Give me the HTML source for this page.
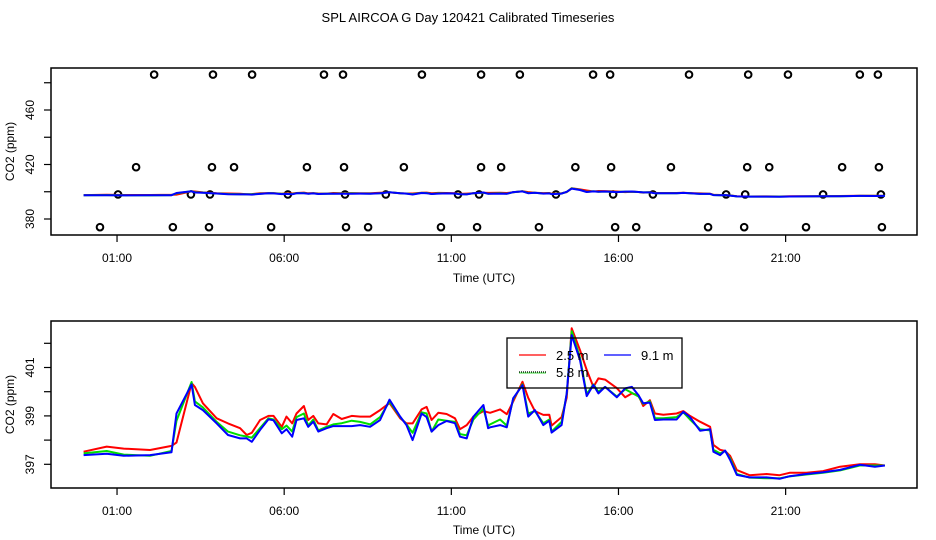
<!DOCTYPE html>
<html><head><meta charset="utf-8">
<style>
html,body{margin:0;padding:0;background:#fff;}
svg{display:block;font-family:"Liberation Sans","DejaVu Sans",sans-serif;}
</style></head>
<body>
<svg id="chart" width="936" height="540" viewBox="0 0 936 540">
<text x="468" y="22" text-anchor="middle" font-size="13">SPL AIRCOA G  Day 120421  Calibrated Timeseries</text>
</svg>
<script>
// ---- data ----
const times = [0,0.69,1.2,1.99,2.63,2.78,3.23,3.33,3.57,3.98,4.32,4.68,4.88,5.03,5.28,5.53,5.68,5.93,6.07,6.24,6.37,6.59,6.72,6.87,7.02,7.27,7.47,7.72,8.02,8.27,8.57,8.87,9.15,9.47,9.66,9.84,10.11,10.26,10.41,10.61,10.86,11.11,11.26,11.46,11.66,11.96,12.1,12.16,12.46,12.66,12.85,13.13,13.3,13.5,13.75,13.93,14.0,14.3,14.45,14.6,14.85,15.05,15.25,15.4,15.6,15.95,16.2,16.4,16.6,16.74,16.94,17.09,17.34,17.74,17.94,18.14,18.44,18.74,18.84,19.04,19.19,19.34,19.54,19.92,20.43,20.82,21.12,21.62,22.12,22.63,23.22,23.67,23.97];
const red2_5 = [397.52,397.73,397.65,397.59,397.76,397.9,400.35,400.2,399.52,398.9,398.69,398.49,398.21,398.3,398.83,399.0,399.0,398.55,398.97,398.69,399.1,399.41,398.83,399.0,398.69,398.65,399.08,398.87,399.0,398.97,398.97,399.24,399.53,398.9,398.69,398.69,399.27,399.37,398.83,399.13,399.08,398.9,398.45,398.62,398.97,399.2,399.15,399.13,399.27,399.07,399.6,400.41,399.75,399.2,399.04,399.05,398.6,398.95,399.75,402.62,401.72,400.9,400.2,400.55,400.5,400.15,399.77,399.93,399.85,399.41,399.65,399.1,399.05,399.1,399.2,399.0,398.76,398.55,397.8,397.6,397.55,397.35,396.76,396.55,396.6,396.55,396.65,396.65,396.72,396.9,397.0,397.0,396.95];
const green5_8 = [397.45,397.55,397.4,397.35,397.55,398.8,400.4,399.6,399.35,398.75,398.35,398.2,398.15,398.1,398.5,398.9,398.85,398.45,398.6,398.35,398.95,399.1,398.6,398.85,398.4,398.55,398.65,398.7,398.8,398.75,398.65,398.95,399.6,398.95,398.65,398.3,399.15,399.1,398.35,398.85,398.8,398.75,398.25,398.2,398.85,399.3,398.6,398.65,398.85,398.6,399.7,400.3,399.1,399.2,398.7,398.85,398.35,398.75,399.9,402.5,401.4,399.9,400.3,400.0,400.2,399.8,400.1,399.95,399.8,399.5,399.6,398.9,398.9,398.95,399.15,398.85,398.45,398.4,397.6,397.45,397.55,397.25,396.6,396.45,396.42,396.42,396.5,396.58,396.65,396.75,396.95,396.95,396.95];
const blue9_1 = [397.38,397.44,397.35,397.38,397.5,399.1,400.3,399.45,399.24,398.69,398.21,398.07,398.07,397.93,398.42,398.86,398.82,398.28,398.45,398.14,398.83,398.9,398.55,398.76,398.35,398.49,398.58,398.58,398.58,398.62,398.55,398.83,399.67,398.97,398.62,398.0,399.1,398.95,398.35,398.62,398.79,398.7,398.14,398.07,398.97,399.45,398.49,398.53,398.62,398.53,399.73,400.27,398.97,399.24,398.62,398.8,398.31,398.62,399.93,402.34,401.31,399.82,400.28,399.93,400.2,399.77,400.14,400.2,399.85,399.52,399.55,398.83,398.85,398.85,399.17,398.95,398.39,398.45,397.52,397.38,397.57,397.18,396.56,396.46,396.46,396.4,396.51,396.6,396.67,396.77,396.98,396.9,396.95];
const circleHours = [2.11,3.87,5.04,7.19,7.76,10.12,11.89,13.05,15.24,15.75,18.11,19.88,21.07,23.22,23.76,
 1.57,3.84,4.50,6.68,7.79,9.58,11.89,12.49,14.71,15.78,17.57,19.85,20.51,22.69,23.79,
 1.03,3.21,3.78,6.11,7.82,9.04,11.2,11.83,14.13,15.84,17.03,19.22,19.79,22.12,23.85,
 0.49,2.67,3.75,5.61,7.85,8.51,10.69,11.77,13.62,15.9,16.53,18.68,19.76,21.61,23.88];
const circleValues = [486,486,486,486,486,486,486,486,486,486,486,486,486,486,486,
 418,418,418,418,418,418,418,418,418,418,418,418,418,418,418,
 398,398,398,398,398,398,398,398,398,398,398,398,398,398,398,
 374,374,374,374,374,374,374,374,374,374,374,374,374,374,374];
const xTickHours = [1,6,11,16,21];
const xTickLabels = ["01:00","06:00","11:00","16:00","21:00"];
const topYTicks = [380,400,420,440,460,480];
const topYLabels = [380,420,460];
const botYTicks = [397,398,399,400,401,402];
const botYLabels = [397,399,401];
const seriesNames = ["2.5 m","5.8 m","9.1 m"];

// ---- scales ----
const X0 = 51, X1 = 917;
function xs(h){ return 83.6 + h*33.43; }
function yTop(v){ return 219 - (v-380)*1.3625; }
function yBot(v){ return 464.3 - (v-397)*24.2; }
const NS = "http://www.w3.org/2000/svg";
const svg = document.getElementById('chart');
function mk(tag, attrs, parent){
  const e = document.createElementNS(NS, tag);
  for (const k in attrs) e.setAttribute(k, attrs[k]);
  (parent||svg).appendChild(e); return e;
}

function panel(name, top, bottom, yfn, yTicks, yLabels, xlabelY){
  const g = mk('g', {});
  
  
  const frame = mk('rect', {x:X0, y:top, width:X1-X0, height:bottom-top, fill:'none', stroke:'#000', 'stroke-width':1.5}, g);
  
  
  xTickHours.forEach((h,i)=>{
    const x = xs(h);
    const t = mk('line', {x1:x, x2:x, y1:bottom, y2:bottom+7, stroke:'#000', 'stroke-width':1.2}, g);
    
    
    const l = mk('text', {x:x, y:bottom+27, 'text-anchor':'middle', 'font-size':12}, g);
    l.textContent = xTickLabels[i];
    
    
  });
  const xt = mk('text', {x:484, y:xlabelY, 'text-anchor':'middle', 'font-size':12}, g);
  xt.textContent = 'Time (UTC)';
  
  
  yTicks.forEach(v=>{
    const y = yfn(v);
    const t = mk('line', {x1:X0-7, x2:X0, y1:y, y2:y, stroke:'#000', 'stroke-width':1.2}, g);
    
    
  });
  yLabels.forEach(v=>{
    const y = yfn(v);
    const l = mk('text', {x:0, y:0, 'text-anchor':'middle', 'font-size':12, transform:'translate(34,'+y+') rotate(-90)'}, g);
    l.textContent = v;
    
    
  });
  const yt = mk('text', {x:0, y:0, 'text-anchor':'middle', 'font-size':12, transform:'translate(14,'+((top+bottom)/2)+') rotate(-90)'}, g);
  yt.textContent = 'CO2 (ppm)';
  
  
  return g;
}

function drawLine(g, vals, yfn, color, nm){
  const pts = times.map((h,i)=>xs(h).toFixed(1)+','+yfn(vals[i]).toFixed(1)).join(' ');
  const p = mk('polyline', {points:pts, fill:'none', stroke:color, 'stroke-width':2, 'stroke-linejoin':'round'}, g);
  
  
}

// top panel
const gt = panel('top-panel', 68, 235, yTop, topYTicks, topYLabels, 282);
circleHours.forEach((h,i)=>{
  const c = mk('circle', {cx:xs(h), cy:yTop(circleValues[i]), r:3.3, fill:'none', stroke:'#000', 'stroke-width':2}, gt);
  
  
});
drawLine(gt, red2_5, yTop, '#ff0000', 'top-line-2-5m');
drawLine(gt, green5_8, yTop, '#00dd00', 'top-line-5-8m');
drawLine(gt, blue9_1, yTop, '#0000ff', 'top-line-9-1m');

// bottom panel
const gb = panel('bottom-panel', 321, 488, yBot, botYTicks, botYLabels, 534);
drawLine(gb, red2_5, yBot, '#ff0000', 'line-2-5m');
drawLine(gb, green5_8, yBot, '#00dd00', 'line-5-8m');
drawLine(gb, blue9_1, yBot, '#0000ff', 'line-9-1m');

// legend
const lg = mk('g', {});


mk('rect', {x:507, y:338, width:175, height:50, fill:'none', stroke:'#000', 'stroke-width':1.3}, lg);
const legItems = [[519,355,'#ff0000',seriesNames[0]],[519,372,'#000000',seriesNames[1]],[604,355,'#0000ff',seriesNames[2]]];
legItems.forEach((it,i)=>{
  const ln = mk('line', {x1:it[0], x2:it[0]+27, y1:it[1], y2:it[1], stroke:it[2], 'stroke-width':1.2, 'stroke-dasharray': i===1?'1,1':'none'}, lg);
  
  
  if(i===1){ mk('line', {x1:it[0], x2:it[0]+27, y1:it[1]+1, y2:it[1]+1, stroke:'#00cc00', 'stroke-width':0.8}, lg); }
  const t = mk('text', {x:it[0]+37, y:it[1]+5, 'font-size':13}, lg);
  t.textContent = it[3];
  
  
});
</script>
</body></html>
